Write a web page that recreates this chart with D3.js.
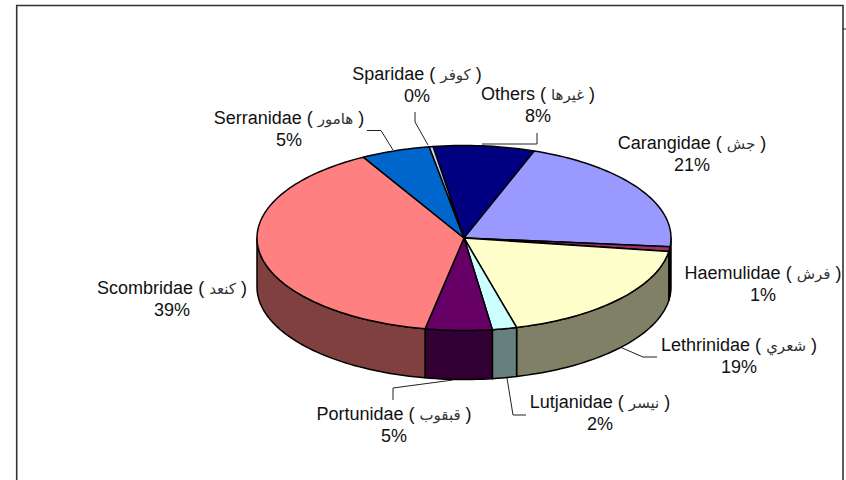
<!DOCTYPE html>
<html><head><meta charset="utf-8">
<script src="https://cdn.jsdelivr.net/npm/d3@7"></script>
<style>html,body{margin:0;padding:0;background:#fff}svg{display:block}
text{font-family:"Liberation Sans",Arial,sans-serif;font-size:18px;fill:#111}
.ar{font-family:"DejaVu Sans",sans-serif;font-size:15px;fill:#333}</style>
</head><body><svg id="c" width="846" height="480"></svg>
<script>
const families=["Others","Carangidae","Haemulidae","Lethrinidae","Lutjanidae","Portunidae","Scombridae","Serranidae","Sparidae"];
const arabicNames=["غيرها","جش","فرش","شعري","نيسر","قبقوب","كنعد","هامور","كوفر"];
const shares=[7.9,21.0,0.8,18.6,1.9,5.2,38.9,5.4,0.3];
const topColors=["#000080","#9999FF","#993366","#FFFFCC","#CCFFFF","#660066","#FF8080","#0066CC","#CCCCFF"];
// layout
const labelX=[538,692,763,739,600,394,172,289,417];
const labelY=[100,149,279,351,408,420,294,124,80];
const leaders=[
 [[537,133],[537,144],[482,144]],
 null,null,
 [[657,357],[643,357],[620,347]],
 [[526,415],[513,415],[507,378]],
 [[393,400],[393,388],[453,380]],
 null,
 [[367,130.5],[381,130.5],[393,150]],
 [[415,112],[415,122],[428,145]]
];
const cx=464,cy=238,rx=207,ry=92.5,depth=49;
const svg=d3.select("#c");
const rad=d=>d*Math.PI/180;
const pie=d3.pie().sort(null).value(d=>d).startAngle(rad(-8.6)).endAngle(rad(351.4));
const arcs=pie(shares);
const px=a=>cx+rx*Math.sin(a), py=(a,dz=0)=>cy-ry*Math.cos(a)+dz;
const line=d3.line();
function sample(a0,a1){const n=Math.max(2,Math.ceil(Math.abs(a1-a0)/rad(1.5)));return d3.range(n+1).map(i=>a0+(a1-a0)*i/n);}
// frame
svg.append("path").attr("d","M16.7,480V5.5H843V480").attr("fill","none").attr("stroke","#333").attr("stroke-width",1.6);
svg.append("line").attr("x1",843).attr("x2",846).attr("y1",29).attr("y2",29).attr("stroke","#222");
// walls (front half only)
arcs.forEach((d,i)=>{
  const a0=Math.max(d.startAngle,Math.PI/2),a1=Math.min(d.endAngle,Math.PI*1.5);
  if(a1<=a0)return;
  const s=sample(a0,a1);
  const pts=s.map(a=>[px(a),py(a)]).concat(s.slice().reverse().map(a=>[px(a),py(a,depth)]));
  const c=d3.rgb(topColors[i]);
  svg.append("path").attr("d",line(pts)+"Z").attr("fill",d3.rgb(c.r/2,c.g/2,c.b/2))
    .attr("stroke","#000").attr("stroke-width",1.5).attr("stroke-linejoin","round");
});
// top faces
arcs.forEach((d,i)=>{
  const s=sample(d.startAngle,d.endAngle);
  const pts=[[cx,cy]].concat(s.map(a=>[px(a),py(a)]));
  svg.append("path").attr("d",line(pts)+"Z").attr("fill",topColors[i]).attr("stroke","#000").attr("stroke-width",1.5).attr("stroke-linejoin","round");
});
// leaders
leaders.forEach(l=>{if(l)svg.append("path").attr("d",line(l)).attr("fill","none").attr("stroke","#222").attr("stroke-width",1);});
// labels
families.forEach((f,i)=>{
  const t=svg.append("text").attr("x",labelX[i]).attr("y",labelY[i]).attr("text-anchor","middle").attr("direction","ltr");
  t.append("tspan").text(f+" (  ");
  t.append("tspan").attr("class","ar").text(arabicNames[i]);
  t.append("tspan").text("  )");
  svg.append("text").attr("x",labelX[i]).attr("y",labelY[i]+22).attr("text-anchor","middle").text(Math.round(shares[i])+"%");
});
</script></body></html>
